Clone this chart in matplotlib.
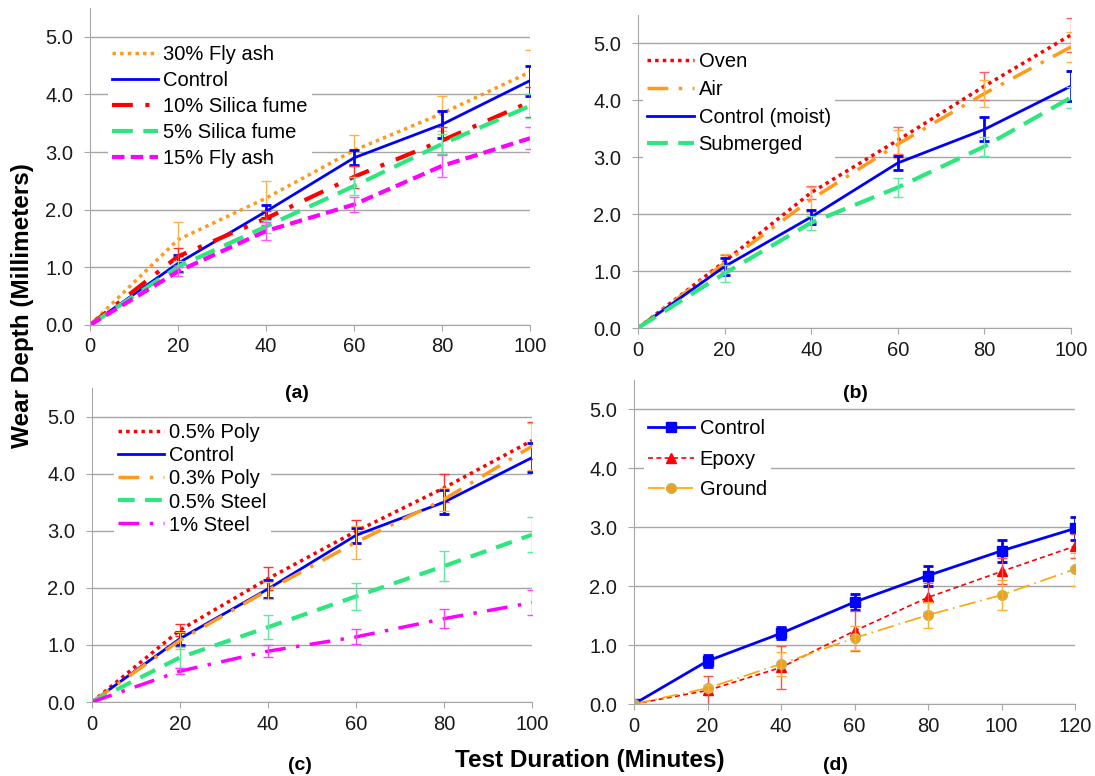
import matplotlib
matplotlib.use("Agg")
import matplotlib.pyplot as plt

plt.rcParams['font.family'] = ['Liberation Sans', 'DejaVu Sans']

# ---- data ----
t100 = [0, 20, 40, 60, 80, 100]
t120 = [0, 20, 40, 60, 80, 100, 120]

# (a) mineral admixtures
a_fly30 = [0, 1.48, 2.20, 3.03, 3.67, 4.39]
a_fly30_err = [0, 0.30, 0.30, 0.27, 0.30, 0.38]
a_ctrl = [0, 1.07, 1.97, 2.90, 3.48, 4.24]
a_ctrl_err = [0, 0.15, 0.12, 0.13, 0.23, 0.26]
a_sf10 = [0, 1.19, 1.85, 2.57, 3.20, 3.87]
a_sf10_err = [0, 0.15, 0.12, 0.19, 0.23, 0.26]
a_sf5 = [0, 1.01, 1.71, 2.41, 3.14, 3.80]
a_sf5_err = [0, 0.10, 0.12, 0.15, 0.18, 0.20]
a_fly15 = [0, 0.93, 1.63, 2.09, 2.76, 3.24]
a_fly15_err = [0, 0.08, 0.15, 0.13, 0.19, 0.19]

# (b) curing
b_oven = [0, 1.17, 2.38, 3.30, 4.25, 5.15]
b_oven_err = [0, 0.12, 0.12, 0.24, 0.24, 0.30]
b_air = [0, 1.14, 2.26, 3.23, 4.12, 4.94]
b_air_err = [0, 0.16, 0.22, 0.25, 0.23, 0.26]
b_ctrl = [0, 1.08, 1.95, 2.90, 3.49, 4.25]
b_ctrl_err = [0, 0.15, 0.12, 0.13, 0.21, 0.26]
b_sub = [0, 0.96, 1.85, 2.47, 3.19, 4.05]
b_sub_err = [0, 0.15, 0.12, 0.17, 0.16, 0.18]

# (c) fibres
c_poly05 = [0, 1.26, 2.16, 2.99, 3.75, 4.58]
c_poly05_err = [0, 0.10, 0.20, 0.20, 0.25, 0.32]
c_ctrl = [0, 1.11, 1.98, 2.92, 3.50, 4.28]
c_ctrl_err = [0, 0.12, 0.15, 0.13, 0.21, 0.26]
c_poly03 = [0, 1.08, 1.96, 2.80, 3.55, 4.48]
c_poly03_err = [0, 0.15, 0.15, 0.29, 0.20, 0.41]
c_steel05 = [0, 0.78, 1.31, 1.85, 2.38, 2.93]
c_steel05_err = [0, 0.18, 0.21, 0.24, 0.26, 0.31]
c_steel1 = [0, 0.54, 0.89, 1.14, 1.46, 1.74]
c_steel1_err = [0, 0.05, 0.10, 0.13, 0.17, 0.22]

# (d) surface treatment
d_ctrl = [0, 0.73, 1.20, 1.73, 2.18, 2.60, 2.98]
d_ctrl_err = [0, 0.11, 0.10, 0.13, 0.17, 0.19, 0.20]
d_epoxy = [0, 0.23, 0.62, 1.24, 1.81, 2.25, 2.68]
d_epoxy_err = [0, 0.25, 0.37, 0.34, 0.24, 0.22, 0.20]
d_ground = [0, 0.27, 0.68, 1.12, 1.51, 1.85, 2.29]
d_ground_err = [0, 0.05, 0.20, 0.20, 0.22, 0.26, 0.28]

W, H = 1095, 776
fig = plt.figure(figsize=(W / 100, H / 100), dpi=100)

def make_ax(l, r, b, t):
    ax = fig.add_axes([l / W, (H - b) / H, (r - l) / W, (b - t) / H])
    ax.set_ylim(0, 5.5)
    ax.set_yticks([0, 1, 2, 3, 4, 5])
    ax.set_yticklabels(['0.0', '1.0', '2.0', '3.0', '4.0', '5.0'])
    ax.grid(axis='y', color='#a6a6a6', lw=1)
    ax.set_axisbelow(True)
    for s in ['top', 'right']:
        ax.spines[s].set_visible(False)
    for s in ['left', 'bottom']:
        ax.spines[s].set_color('#a6a6a6')
    ax.tick_params(colors='#a6a6a6', labelcolor='#1a1a1a', labelsize=14.5, length=4)
    ax.tick_params(axis='y', pad=8)
    ax.tick_params(axis='x', pad=5)
    return ax

def series(ax, x, y, e, color, ecolor, ls, lw, label, elw=1, **kw):
    ax.plot(x, y, color=color, ls=ls, lw=lw, label=label, **kw)
    ax.errorbar(x[1:], y[1:], yerr=e[1:], fmt='none', ecolor=ecolor,
                elinewidth=elw, capsize=3.5, capthick=elw)

def legend(ax, anchor, spacing, hl=2.3):
    leg = ax.legend(loc='upper left', bbox_to_anchor=anchor, fontsize=14.5,
                    handlelength=hl, labelspacing=spacing, handletextpad=0.25,
                    borderaxespad=0, borderpad=0.2, frameon=True, fancybox=False,
                    framealpha=1)
    leg.get_frame().set_edgecolor('none')
    return leg

def panel_label(x, y, s):
    fig.text(x / W, 1 - y / H, s, ha='center', va='center', fontsize=14, fontweight='bold')

# (a)
ax = make_ax(90, 530, 325, 8)
ax.set_xlim(0, 100)
ax.set_xticks(t100)
series(ax, t100, a_fly30, a_fly30_err, '#ff9a1a', '#ffb347', (0, (1, 1.2)), 2.5, '30% Fly ash')
series(ax, t100, a_ctrl, a_ctrl_err, '#0000ff', '#0000ff', '-', 2, 'Control', elw=2)
series(ax, t100, a_sf10, a_sf10_err, '#ff0000', '#ff3030', (0, (5, 3, 1, 3)), 3, '10% Silica fume')
series(ax, t100, a_sf5, a_sf5_err, '#2ee67e', '#60eaa0', (0, (5, 2.5)), 3, '5% Silica fume')
series(ax, t100, a_fly15, a_fly15_err, '#ff00ff', '#ff55ff', (0, (3, 1.5)), 3, '15% Fly ash')
legend(ax, (0.041, 0.895), 0.34)
panel_label(297, 393, '(a)')

# (b)
ax = make_ax(638, 1071, 328, 15)
ax.set_xlim(0, 100)
ax.set_xticks(t100)
series(ax, t100, b_oven, b_oven_err, '#ff0000', '#ff6060', (0, (1, 1.2)), 2.5, 'Oven')
series(ax, t100, b_air, b_air_err, '#ff9a1a', '#ffb347', (0, (6, 3, 1, 3)), 2.5, 'Air')
series(ax, t100, b_ctrl, b_ctrl_err, '#0000ff', '#0000ff', '-', 2, 'Control (moist)', elw=2)
series(ax, t100, b_sub, b_sub_err, '#2ee67e', '#60eaa0', (0, (5, 2.5)), 3, 'Submerged')
legend(ax, (0.012, 0.895), 0.44)
panel_label(855, 393, '(b)')

# (c)
ax = make_ax(92, 532, 702, 388)
ax.set_xlim(0, 100)
ax.set_xticks(t100)
series(ax, t100, c_poly05, c_poly05_err, '#ff0000', '#ff3030', (0, (1, 1.2)), 2.5, '0.5% Poly')
series(ax, t100, c_ctrl, c_ctrl_err, '#0000ff', '#0000ff', '-', 2, 'Control', elw=2)
series(ax, t100, c_poly03, c_poly03_err, '#ff9a1a', '#ffb347', (0, (6, 3, 1, 3)), 2.5, '0.3% Poly')
series(ax, t100, c_steel05, c_steel05_err, '#2ee67e', '#60eaa0', (0, (4, 2.5)), 3, '0.5% Steel')
series(ax, t100, c_steel1, c_steel1_err, '#ff00ff', '#ff40ff', (0, (6, 3, 1, 3)), 2.5, '1% Steel')
legend(ax, (0.05, 0.90), 0.2)
panel_label(300, 765, '(c)')

# (d)
ax = make_ax(634, 1075, 704, 380)
ax.set_xlim(0, 120)
ax.set_xticks(t120)
ax.plot(t120, d_ctrl, color='#0000ff', lw=2, marker='s', ms=7, label='Control')
ax.errorbar(t120, d_ctrl, yerr=d_ctrl_err, fmt='none', ecolor='#0000ff',
            elinewidth=2, capsize=3.5, capthick=2)
ax.plot(t120, d_epoxy, color='#ff0000', lw=1.2, ls=(0, (3, 2)), marker='^', ms=7, label='Epoxy')
ax.errorbar(t120, d_epoxy, yerr=d_epoxy_err, fmt='none', ecolor='#ff5050',
            elinewidth=1, capsize=3.5)
ax.plot(t120, d_ground, color='#ffa500', lw=1.2, ls=(0, (10, 3, 1, 3)), marker='o', ms=7,
        markerfacecolor='#f0a020', markeredgecolor='#b8b860', label='Ground')
ax.errorbar(t120, d_ground, yerr=d_ground_err, fmt='none', ecolor='#ffb030',
            elinewidth=1, capsize=3.5)
legend(ax, (0.023, 0.893), 0.59)
panel_label(835, 765, '(d)')

fig.text(23 / W, 1 - 306 / H, 'Wear Depth (Millimeters)', rotation=90, ha='center',
         va='center', fontsize=17.5, fontweight='bold')
fig.text(590 / W, 1 - 760 / H, 'Test Duration (Minutes)', ha='center', va='center',
         fontsize=17.5, fontweight='bold')

fig.savefig('out.png', dpi=100)
